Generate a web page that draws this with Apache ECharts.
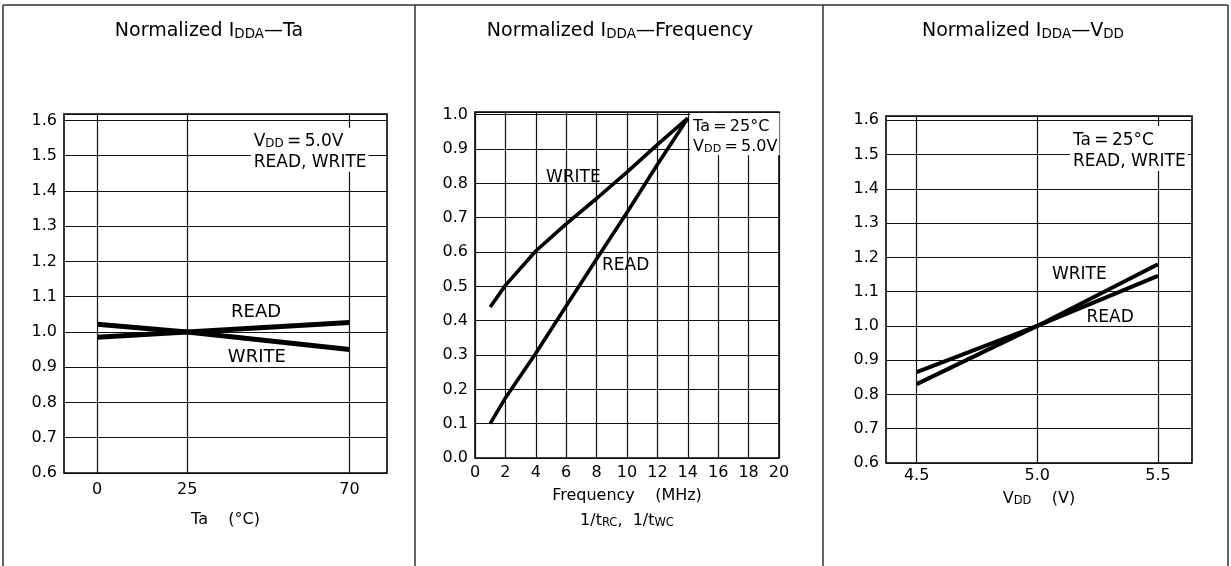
<!DOCTYPE html>
<html><head><meta charset="utf-8">
<script src="https://cdn.jsdelivr.net/npm/echarts@6/dist/echarts.min.js"></script>
<style>html,body{margin:0;padding:0;background:#fff}#c{width:1231px;height:566px}</style>
</head><body><div id="c"></div>
<script>
// ---- data ----
const taTicks = [0, 25, 70];
const taRead = [0.985, 1.0, 1.027];
const taWrite = [1.022, 1.0, 0.95];

const freqPoints = [1, 2, 4, 6, 8, 10, 12, 14];
const freqRead = [0.10, 0.175, 0.305, 0.443, 0.58, 0.715, 0.855, 0.99];
const freqWrite = [0.44, 0.503, 0.603, 0.682, 0.756, 0.833, 0.913, 0.99];

const vddTicks = [4.5, 5.0, 5.5];
const vddRead = [0.865, 1.0, 1.146];
const vddWrite = [0.83, 1.0, 1.18];

const FONT = 'DejaVu Sans';
const INK = '#000';
const EQ = '\u2009=\u2009';

function pairs(xs, ys) { return xs.map((x, i) => [x, ys[i]]); }

const axisRich = {
  a: {fontSize: 16, fontFamily: FONT, color: INK, verticalAlign: 'bottom', lineHeight: 25},
  s: {fontSize: 11.5, fontFamily: FONT, color: INK, verticalAlign: 'bottom', lineHeight: 25}
};

const gridStyle = {show: true, borderColor: '#000', borderWidth: 1.6, backgroundColor: 'transparent'};
const grids = [
  Object.assign({left: 64, top: 114, width: 323, height: 359}, gridStyle),
  Object.assign({left: 475, top: 112, width: 304, height: 346}, gridStyle),
  Object.assign({left: 886, top: 116, width: 306, height: 347}, gridStyle)
];

const yLabel = {fontFamily: FONT, fontSize: 16, color: INK, margin: 7, showMaxLabel: false,
  formatter: v => v.toFixed(1)};
const splitStyle = {show: true, lineStyle: {color: '#111', width: 1.2}};

function vLines(ticks) {
  return {silent: true, symbol: 'none', label: {show: false},
    lineStyle: {color: '#111', width: 1.2, type: 'solid'},
    emphasis: {disabled: true},
    data: ticks.map(v => ({xAxis: v}))};
}

const option = {
  backgroundColor: '#fff',
  animation: false,
  grid: grids,
  xAxis: [
    {gridIndex: 0, type: 'value', min: -9.2, max: 80.4,
     axisLine: {show: false}, axisTick: {show: false}, splitLine: {show: false},
     axisLabel: {customValues: taTicks, fontFamily: FONT, fontSize: 16, color: INK, margin: 9},
     name: '{a|Ta    (°C)}', nameLocation: 'middle', nameGap: 30,
     nameTextStyle: {rich: axisRich}},
    {gridIndex: 1, type: 'value', min: 0, max: 20, interval: 2,
     axisLine: {show: false}, axisTick: {show: false}, splitLine: splitStyle,
     axisLabel: {fontFamily: FONT, fontSize: 16, color: INK, margin: 7},
     name: '{a|Frequency    (MHz)}\n{a|1/t}{s|RC}{a|,  1/t}{s|WC}', nameLocation: 'middle', nameGap: 21,
     nameTextStyle: {rich: axisRich}},
    {gridIndex: 2, type: 'value', min: 4.373, max: 5.641,
     axisLine: {show: false}, axisTick: {show: false}, splitLine: {show: false},
     axisLabel: {customValues: vddTicks, fontFamily: FONT, fontSize: 16, color: INK, margin: 5,
       formatter: v => v.toFixed(1)},
     name: '{a|V}{s|DD}{a|    (V)}', nameLocation: 'middle', nameGap: 19,
     nameTextStyle: {rich: axisRich}}
  ],
  yAxis: [
    {gridIndex: 0, type: 'value', min: 0.6, max: 1.618, interval: 0.1,
     axisLine: {show: false}, axisTick: {show: false}, splitLine: splitStyle, axisLabel: yLabel},
    {gridIndex: 1, type: 'value', min: 0, max: 1.008, interval: 0.1,
     axisLine: {show: false}, axisTick: {show: false}, splitLine: splitStyle, axisLabel: yLabel},
    {gridIndex: 2, type: 'value', min: 0.6, max: 1.6125, interval: 0.1,
     axisLine: {show: false}, axisTick: {show: false}, splitLine: splitStyle, axisLabel: yLabel}
  ],
  series: [
    {type: 'line', xAxisIndex: 0, yAxisIndex: 0, data: pairs(taTicks, taRead), showSymbol: false,
     lineStyle: {color: '#000', width: 5}, markLine: vLines(taTicks), z: 3},
    {type: 'line', xAxisIndex: 0, yAxisIndex: 0, data: pairs(taTicks, taWrite), showSymbol: false,
     lineStyle: {color: '#000', width: 5}, z: 3},
    {type: 'line', xAxisIndex: 1, yAxisIndex: 1, data: pairs(freqPoints, freqRead), showSymbol: false,
     lineStyle: {color: '#000', width: 3.6}, z: 3},
    {type: 'line', xAxisIndex: 1, yAxisIndex: 1, data: pairs(freqPoints, freqWrite), showSymbol: false,
     lineStyle: {color: '#000', width: 3.6}, z: 3},
    {type: 'line', xAxisIndex: 2, yAxisIndex: 2, data: pairs(vddTicks, vddRead), showSymbol: false,
     lineStyle: {color: '#000', width: 4}, markLine: vLines(vddTicks), z: 3},
    {type: 'line', xAxisIndex: 2, yAxisIndex: 2, data: pairs(vddTicks, vddWrite), showSymbol: false,
     lineStyle: {color: '#000', width: 4}, z: 3}
  ]
};

const chart = echarts.init(document.getElementById('c'), null, {renderer: 'canvas'});
chart.setOption(option);

// ---- text decorations ----
function tok(size, lh) { return {fontSize: size, fontFamily: FONT, fill: INK, verticalAlign: 'bottom', lineHeight: lh}; }
const titleRich = {n: tok(19, 24), s: tok(13.5, 24)};

const titles = [
  {x: 209, text: '{n|Normalized I}{s|DDA}{n|—Ta}'},
  {x: 620, text: '{n|Normalized I}{s|DDA}{n|—Frequency}'},
  {x: 1023, text: '{n|Normalized I}{s|DDA}{n|—V}{s|DD}'}
];

const notes = [
  {grid: 0, at: [44.1, 1.057], text: 'READ', size: 18},
  {grid: 0, at: [44.3, 0.927], text: 'WRITE', size: 18},
  {grid: 1, at: [6.47, 0.817], text: 'WRITE', size: 17},
  {grid: 1, at: [9.91, 0.562], text: 'READ', size: 17},
  {grid: 2, at: [5.174, 1.149], text: 'WRITE', size: 17},
  {grid: 2, at: [5.302, 1.025], text: 'READ', size: 17}
];

const boxes = [
  {grid: 0, at: [42.6, 1.579], lh: 21, fs: 17, text: '{a|V}{s|DD}{a|' + EQ + '5.0V}\n{a|READ, WRITE}'},
  {grid: 1, at: [14.15, 1.004], lh: 20, fs: 16, text: '{a|Ta' + EQ + '25°C}\n{a|V}{s|DD}{a|' + EQ + '5.0V}'},
  {grid: 2, at: [5.135, 1.583], lh: 21.5, fs: 17, text: '{a|Ta' + EQ + '25°C}\n{a|READ, WRITE}'}
];

const graphics = [];
// outer frame and panel dividers
[[3, 5, 1228, 5], [3, 5, 3, 566], [415, 5, 415, 566], [823, 5, 823, 566], [1228, 5, 1228, 566]].forEach(s => {
  graphics.push({type: 'line', z: 100, shape: {x1: s[0], y1: s[1], x2: s[2], y2: s[3]},
    style: {stroke: '#333', lineWidth: 1.5}});
});
titles.forEach(t => graphics.push({type: 'text', z: 100, x: t.x, y: 17,
  style: {text: t.text, rich: titleRich, align: 'center', verticalAlign: 'top'}}));
notes.forEach(n => {
  const p = chart.convertToPixel({gridIndex: n.grid}, n.at);
  graphics.push({type: 'text', z: 100, x: p[0], y: p[1],
    style: {text: n.text, fontSize: n.size, fontFamily: FONT, fill: INK, align: 'center', verticalAlign: 'middle'}});
});
boxes.forEach(b => {
  const p = chart.convertToPixel({gridIndex: b.grid}, b.at);
  graphics.push({type: 'text', z: 100, x: p[0], y: p[1],
    style: {text: b.text, rich: {a: tok(b.fs, b.lh), s: tok(b.fs * 0.7, b.lh)},
      align: 'left', verticalAlign: 'top', backgroundColor: '#fff', padding: [1, 2, 1, 3]}});
});
chart.setOption({graphic: graphics});
</script></body></html>
